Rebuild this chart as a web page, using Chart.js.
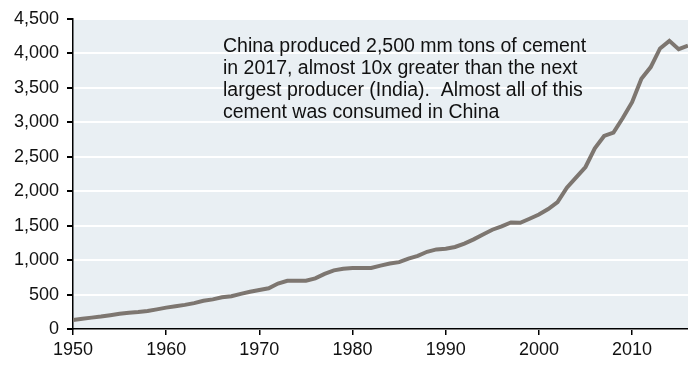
<!DOCTYPE html>
<html>
<head>
<meta charset="utf-8">
<script src="https://cdn.jsdelivr.net/npm/chart.js@4/dist/chart.umd.min.js"></script>
<style>
  html, body { margin: 0; padding: 0; background: #fff; }
  #wrap { width: 688px; height: 365px; position: relative; }
</style>
</head>
<body>
<div id="wrap"><canvas id="cement"></canvas></div>
<script>
// China cement production, mm tons per year
const years = [];
for (let y = 1950; y <= 2016; y++) years.push(y);

const production = [
  130, 150, 165, 180, 200, 220, 235, 245, 260, 285,
  310, 330, 350, 375, 410, 430, 460, 475, 510, 540,
  565, 590, 660, 700, 700, 700, 735, 800, 850, 875,
  885, 885, 885, 920, 950, 970, 1020, 1060, 1120, 1155,
  1165, 1190, 1240, 1300, 1370, 1440, 1490, 1545, 1540, 1600,
  1660, 1740, 1840, 2050, 2200, 2350, 2620, 2800, 2850, 3060,
  3290, 3630, 3800, 4070, 4180, 4060, 4110
];

const yearTicks = [1950, 1960, 1970, 1980, 1990, 2000, 2010];

const noteLines = [
  'China produced 2,500 mm tons of cement',
  'in 2017, almost 10x greater than the next',
  'largest producer (India).  Almost all of this',
  'cement was consumed in China'
];

const FONT = "'Liberation Sans', Arial, sans-serif";

// fills the plot area and writes the note on top
const plotBackground = {
  id: 'plotBackground',
  beforeDraw(chart) {
    const { ctx, chartArea: a } = chart;
    ctx.save();
    ctx.fillStyle = '#e9eff3';
    ctx.fillRect(a.left, a.top, a.right - a.left, a.bottom - a.top);
    ctx.restore();
  }
};

const note = {
  id: 'note',
  afterDraw(chart) {
    const ctx = chart.ctx;
    ctx.save();
    ctx.fillStyle = '#111';
    ctx.font = '19.5px ' + FONT;
    ctx.textBaseline = 'middle';
    noteLines.forEach((t, i) => ctx.fillText(t, 223, 47 + i * 22));
    ctx.restore();
  }
};

new Chart(document.getElementById('cement'), {
  type: 'line',
  data: {
    datasets: [{
      data: years.map((y, i) => ({ x: y, y: production[i] })),
      borderColor: '#7d7670',
      borderWidth: 4,
      pointRadius: 0,
      tension: 0,
      fill: false
    }]
  },
  options: {
    responsive: true,
    maintainAspectRatio: false,
    animation: false,
    layout: { padding: { top: 8, right: 0, left: 0, bottom: 0 } },
    plugins: { legend: { display: false }, tooltip: { enabled: false } },
    scales: {
      x: {
        type: 'linear',
        min: 1950,
        max: 2016,
        afterBuildTicks: s => { s.ticks = yearTicks.map(v => ({ value: v })); },
        afterFit: s => { s.height = 36; },
        ticks: { color: '#111', font: { family: FONT, size: 18 }, padding: 4, maxRotation: 0, autoSkip: false, callback: v => String(v) },
        grid: { drawOnChartArea: false, color: '#000', tickLength: 6, lineWidth: 1.5 },
        border: { color: '#000', width: 1.5 }
      },
      y: {
        min: 0,
        max: 4500,
        afterFit: s => { s.width = 73; },
        ticks: { stepSize: 500, color: '#111', font: { family: FONT, size: 18 }, padding: 8,
          callback: v => v.toLocaleString('en-US') },
        grid: { color: '#ffffff', lineWidth: 2, tickColor: '#000', tickLength: 6 },
        border: { color: '#000', width: 1.5 }
      }
    }
  },
  plugins: [plotBackground, note]
});
</script>
</body>
</html>
